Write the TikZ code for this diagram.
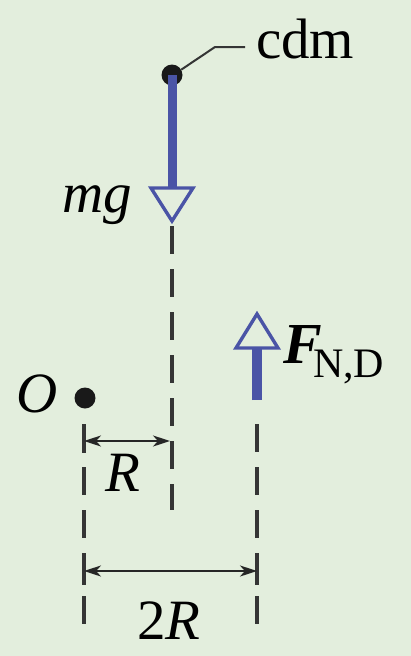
\documentclass[tikz,border=0pt]{standalone}
\usepackage{fontspec}
\setmainfont{Liberation Serif}
\usetikzlibrary{arrows.meta}
\definecolor{bg}{HTML}{E3EEDD}
\definecolor{fblue}{HTML}{4A54A6}
\definecolor{dk}{HTML}{353535}
\begin{document}
\begin{tikzpicture}[x=1pt,y=-1pt,
  lbl/.style={inner sep=0pt,outer sep=0pt,font=\fontsize{57}{60}\selectfont},
  dot/.style={circle,fill=black!90,inner sep=0pt,minimum size=21pt},
  force/.style={draw=fblue,line width=9pt},
  head/.style={draw=fblue,line width=3.4pt,fill=bg,line join=miter},
  dashline/.style={draw=dk,line width=3.4pt,dash pattern=on 28pt off 15pt},
  dim/.style={draw=black!85,line width=2.2pt,{Stealth[length=17pt,width=11pt,inset=5pt]}-{Stealth[length=17pt,width=11pt,inset=5pt]}},
  tick/.style={draw=dk,line width=3.4pt}]
\fill[bg] (0,0) rectangle (411,656);
\useasboundingbox (0,0) rectangle (411,656);
% centre of mass
\node[dot] (cdm) at (172,75) {};
\node[lbl,anchor=base west] (cdmt) at (256,58) {cdm};
\coordinate (lk) at (215,47);
\coordinate (le) at (245,47);
\draw[dk,line width=2pt] (cdm.30) -- (lk) -- (le);
% weight
\coordinate (mgt) at (172,188);
\draw[force] (cdm.center) -- (mgt);
\draw[head] (151,188) -- (193,188) -- (172,221) -- cycle;
\node[lbl,anchor=base east,font=\fontsize{57}{60}\selectfont\itshape] (mg) at (132,212) {mg};
% O
\node[dot] (O) at (85,398) {};
\node[lbl,anchor=base east,font=\fontsize{57}{60}\selectfont\itshape] (Ot) at (58,412) {O};
% normal force
\coordinate (fb) at (257,400);
\coordinate (ft) at (257,347);
\draw[force,line width=10pt] (fb) -- (ft);
\draw[head] (236,348) -- (278,348) -- (257,314) -- cycle;
\node[lbl,anchor=base west,font=\fontsize{58}{60}\selectfont\bfseries\itshape] (F) at (283,363) {F};
\node[lbl,anchor=base west,font=\fontsize{42}{44}\selectfont] (Fs) at (313,377) {N,D};
% dashed lines
\coordinate (d1a) at (172,226);
\coordinate (d1b) at (172,510);
\coordinate (d2a) at (84,424);
\coordinate (d2b) at (84,635);
\coordinate (d3a) at (257,424);
\coordinate (d3b) at (257,635);
\draw[dashline] (d1a) -- (d1b);
\draw[dashline] (d2a) -- (d2b);
\draw[dashline] (d3a) -- (d3b);
% dimensions
\coordinate (r1) at (84,441);
\coordinate (r2) at (170,441);
\draw[tick] (84,430) -- (84,453);
\draw[dim] (r1) -- (r2);
\node[lbl,anchor=base,font=\fontsize{57}{60}\selectfont\itshape] (Rt) at (123,491) {R};
\coordinate (s1) at (84,571);
\coordinate (s2) at (257,571);
\draw[tick] (84,558) -- (84,585);
\draw[tick] (257,558) -- (257,585);
\draw[dim] (s1) -- (s2);
\node[lbl,anchor=base,font=\fontsize{57}{60}\selectfont] (Rt2) at (169,639) {2\textit{R}};
\end{tikzpicture}
\end{document}
